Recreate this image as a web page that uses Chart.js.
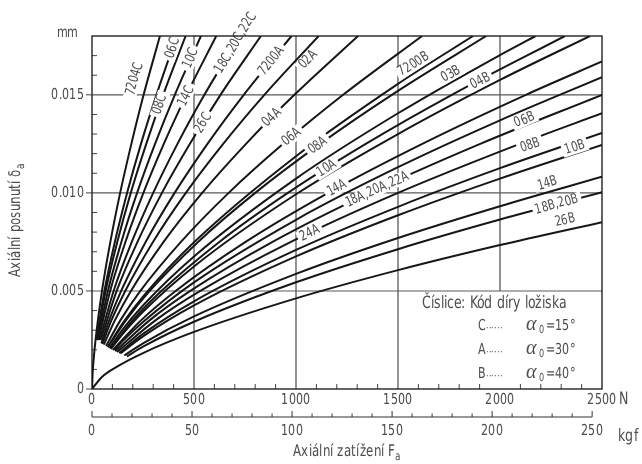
<!DOCTYPE html>
<html><head><meta charset="utf-8">
<script src="https://cdn.jsdelivr.net/npm/chart.js@4.4.1/dist/chart.umd.min.js"></script>
<style>
@font-face { font-family: 'CondSans'; src: local('Liberation Sans Narrow'), local('LiberationSansNarrow-Regular'), local('DejaVu Sans Condensed'), local('DejaVuSansCondensed'); }
html,body{margin:0;padding:0;background:#fff}canvas{display:block}
</style>
</head><body>
<canvas id="c" width="642" height="464" style="width:642px;height:464px"></canvas>
<script>
// ---- tick values / labels ----
const xTickValsN = [0, 500, 1000, 1500, 2000, 2500];
const xTickLabelsN = ['0', '500', '1000', '1500', '2000', '2500'];
const kgfTickVals = [0, 50, 100, 150, 200, 250];
const kgfTickLabels = ['0', '50', '100', '150', '200', '250'];
const yTickVals = [0, 0.005, 0.010, 0.015];
const yTickLabels = ['0', '0.005', '0.010', '0.015'];
const gridN = [500, 1000, 1500, 2000];
const gridMm = [0.005, 0.010, 0.015];

// ---- curves: [axial load N, axial displacement mm] ----
const s7204C = [[0,0],[3,0.00078],[8,0.0015],[17,0.00247],[49,0.005],[90,0.0075],[138,0.010],[193,0.0125],[253,0.015],[333,0.018]];
const s06C = [[21.5,0.0025],[61,0.005],[112,0.0075],[172,0.010],[240,0.0125],[316,0.015],[415,0.018]];
const s08C = [[24,0.0025],[67,0.005],[124,0.0075],[190,0.010],[266,0.0125],[349,0.015],[459,0.018]];
const s10C = [[28,0.0025],[78,0.005],[144,0.0075],[221,0.010],[309,0.0125],[406,0.015],[534,0.018]];
const s14C = [[31.5,0.0025],[89,0.005],[164,0.0075],[252,0.010],[352,0.0125],[463,0.015],[609,0.018]];
const s18C = [[37.5,0.0025],[106,0.005],[195,0.0075],[300,0.010],[419,0.0125],[551,0.015],[725,0.018]];
const s26C = [[43,0.0025],[121,0.005],[223,0.0075],[343,0.010],[480,0.0125],[630,0.015],[828,0.018]];
const s7200A = [[46,0.00233],[84,0.0035],[143,0.005],[263,0.0075],[405,0.010],[566,0.0125],[744,0.015],[978,0.018]];
const s02A = [[51,0.0023],[95,0.0035],[163,0.005],[299,0.0075],[460,0.010],[643,0.0125],[845,0.015],[1111,0.018]];
const s04A = [[58,0.00226],[112,0.0035],[191,0.005],[351,0.0075],[540,0.010],[755,0.0125],[992,0.015],[1304,0.018]];
const s06A = [[69,0.00219],[139,0.0035],[237,0.005],[436,0.0075],[670,0.010],[937,0.0125],[1231,0.015],[1618,0.018]];
const s08A = [[78,0.00213],[166,0.0035],[283,0.005],[520,0.0075],[800,0.010],[1118,0.0125],[1470,0.015],[1932,0.018]];
const s10A = [[91,0.00206],[199,0.0035],[340,0.005],[624,0.0075],[960,0.010],[1342,0.0125],[1764,0.015],[2318,0.018]];
const s14A = [[102,0.00199],[240,0.0035],[410,0.005],[753,0.0075],[1158,0.010],[1619,0.0125],[2127,0.015],[2500,0.0167]];
const s18A = [[114,0.00192],[282,0.0035],[482,0.005],[885,0.0075],[1361,0.010],[1903,0.0125],[2500,0.0150]];
const s24A = [[123,0.00189],[311,0.0035],[531,0.005],[975,0.0075],[1500,0.010],[2097,0.0125],[2500,0.01406]];
const s7200B = [[77,0.00214],[150,0.00335],[250,0.00471],[500,0.00748],[1000,0.01187],[1500,0.01556],[1868,0.018]];
const s03B = [[86,0.00208],[150,0.00303],[250,0.00426],[500,0.00676],[1000,0.01073],[1500,0.01406],[2000,0.01703],[2174,0.018]];
const s04B = [[93,0.00204],[150,0.0028],[250,0.00394],[500,0.00625],[1000,0.00993],[1500,0.0130],[2000,0.01576],[2441,0.018]];
const s06B = [[110,0.00198],[150,0.00244],[250,0.00342],[500,0.00544],[1000,0.00863],[1500,0.01131],[2000,0.0137],[2500,0.0159]];
const s08B = [[133,0.00184],[250,0.00281],[500,0.00447],[1000,0.00709],[1500,0.00929],[2000,0.01126],[2500,0.01306]];
const s10B = [[139,0.00181],[250,0.00268],[500,0.00426],[1000,0.00676],[1500,0.00886],[2000,0.01073],[2500,0.01245]];
const s14B = [[158,0.00171],[250,0.00233],[500,0.0037],[1000,0.00587],[1500,0.0077],[2000,0.00932],[2500,0.01082]];
const s18B = [[171,0.00166],[250,0.00216],[500,0.00343],[1000,0.00544],[1500,0.00713],[2000,0.00864],[2500,0.01003]];
const s26B = [[0,0],[50,0.000626],[125,0.001154],[250,0.001833],[500,0.00291],[1000,0.00462],[1500,0.00606],[2000,0.00734],[2500,0.00851]];

const curveNames = ['7204C','06C','08C','10C','14C','18C,20C,22C','26C',
  '7200A','02A','04A','06A','08A','10A','14A','18A,20A,22A','24A',
  '7200B','03B','04B','06B','08B','10B','14B','18B,20B','26B'];
const curveData = [s7204C,s06C,s08C,s10C,s14C,s18C,s26C,
  s7200A,s02A,s04A,s06A,s08A,s10A,s14A,s18A,s24A,
  s7200B,s03B,s04B,s06B,s08B,s10B,s14B,s18B,s26B];

// label placement along each curve (load where the label sits, side offset in px)
const labelSpots = {
  '7204C':[270,-13], '06C':[395,0], '08C':[333,0], '10C':[485,0], '14C':[461,0],
  '18C,20C,22C':[705,0], '26C':[544,0],
  '7200A':[880,0], '02A':[1030,8], '04A':[882,0], '06A':[980,0], '08A':[1108,0],
  '10A':[1152,0], '14A':[1201,0], '18A,20A,22A':[1397,0], '24A':[1069,0],
  '7200B':[1598,-8], '03B':[1779,-8], '04B':[1922,-8], '06B':[2103,9], '08B':[2167,-12],
  '10B':[2377,-6], '14B':[2245,-9], '18B,20B':[2279,0], '26B':[2330,-10]
};

const FONT = "CondSans, 'DejaVu Sans', sans-serif";
const TXT = '#4d4d4d';
const KGF = 9.80665;
const SX = 0.82;

function interp(arr, F){
  let i = 0;
  while (i < arr.length - 2 && arr[i+1][0] < F) i++;
  const a = arr[i], b = arr[i+1];
  const t = (F - a[0]) / (b[0] - a[0]);
  return a[1] + t * (b[1] - a[1]);
}
// condensed text helper (x,y = anchor; align left/center/right; vertical middle)
function txt(ctx, s, x, y, size, align, sx, font){
  ctx.save();
  ctx.font = font ? font : `${size}px ${FONT}`;
  ctx.textBaseline = 'middle';
  ctx.textAlign = 'left';
  const w = ctx.measureText(s).width * sx;
  let x0 = x;
  if (align === 'center') x0 = x - w / 2; else if (align === 'right') x0 = x - w;
  ctx.translate(x0, y); ctx.scale(sx, 1);
  ctx.fillText(s, 0, 0);
  ctx.restore();
  return w;
}

const deco = {
  id: 'deco',
  beforeDatasetsDraw(chart){
    const {ctx, chartArea: a, scales: {x, y}} = chart;
    ctx.save();
    ctx.strokeStyle = '#3a3a3a'; ctx.lineWidth = 1.1;
    gridN.forEach(v => {
      const px = x.getPixelForValue(v);
      const yEnd = v === 2000 ? y.getPixelForValue(0.005) : a.bottom;
      ctx.beginPath(); ctx.moveTo(px, a.top); ctx.lineTo(px, yEnd); ctx.stroke();
    });
    ctx.strokeStyle = '#5a5a5a';
    gridMm.forEach(v => {
      const py = y.getPixelForValue(v);
      ctx.beginPath(); ctx.moveTo(a.left, py); ctx.lineTo(a.right, py); ctx.stroke();
    });
    // minor ticks (inside)
    ctx.strokeStyle = '#444'; ctx.lineWidth = 1;
    for (let v = 100; v < 2500; v += 100) {
      if (v % 500 === 0) continue;
      const px = x.getPixelForValue(v);
      ctx.beginPath(); ctx.moveTo(px, a.bottom); ctx.lineTo(px, a.bottom - 5); ctx.stroke();
    }
    for (let k = 1; k <= 17; k++) {
      if (k % 5 === 0) continue;
      const py = y.getPixelForValue(k / 1000);
      ctx.beginPath(); ctx.moveTo(a.left, py); ctx.lineTo(a.left + 5, py); ctx.stroke();
    }
    ctx.restore();
  },
  afterDatasetsDraw(chart){
    const {ctx, chartArea: a, scales: {x, y, x2}} = chart;
    ctx.save();
    // curve labels
    curveNames.forEach((n, i) => {
      const spot = labelSpots[n]; if (!spot) return;
      const arr = curveData[i];
      const F = spot[0];
      const dF = Math.max(8, F * 0.04);
      const p0x = x.getPixelForValue(F - dF), p0y = y.getPixelForValue(interp(arr, F - dF));
      const p1x = x.getPixelForValue(F + dF), p1y = y.getPixelForValue(interp(arr, F + dF));
      const ang = Math.atan2(p1y - p0y, p1x - p0x);
      const cx = x.getPixelForValue(F), cy = y.getPixelForValue(interp(arr, F));
      ctx.save();
      ctx.translate(cx, cy); ctx.rotate(ang); ctx.translate(0, spot[1]);
      ctx.font = `14px ${FONT}`;
      const w = ctx.measureText(n).width * SX;
      ctx.fillStyle = '#fff';
      ctx.fillRect(-w/2 - 3, -6.5, w + 6, 13);
      ctx.fillStyle = TXT;
      txt(ctx, n, 0, 0, 14, 'center', SX);
      ctx.restore();
    });
    // frame
    ctx.strokeStyle = '#111'; ctx.lineWidth = 1.3;
    ctx.strokeRect(a.left, a.top, a.right - a.left, a.bottom - a.top);
    // major y ticks (outside)
    ctx.strokeStyle = '#444'; ctx.lineWidth = 1;
    yTickVals.forEach(v => {
      const py = y.getPixelForValue(v);
      ctx.beginPath(); ctx.moveTo(a.left - 6, py); ctx.lineTo(a.left, py); ctx.stroke();
    });
    // tick labels
    ctx.fillStyle = TXT;
    yTickVals.forEach((v, i) => txt(ctx, yTickLabels[i], a.left - 8, y.getPixelForValue(v), 15, 'right', SX));
    xTickValsN.forEach((v, i) => txt(ctx, xTickLabelsN[i], x.getPixelForValue(v), 400, 15, 'center', SX));
    kgfTickVals.forEach((v, i) => txt(ctx, kgfTickLabels[i], x2.getPixelForValue(v), 431, 15, 'center', SX));
    // secondary kgf axis
    const ay = 417;
    ctx.strokeStyle = '#333'; ctx.lineWidth = 1;
    ctx.beginPath(); ctx.moveTo(x2.getPixelForValue(0), ay); ctx.lineTo(x2.getPixelForValue(250), ay); ctx.stroke();
    for (let k = 0; k <= 250; k += 10) {
      const px = x2.getPixelForValue(k);
      const h = k % 50 === 0 ? 6 : 3.5;
      ctx.beginPath(); ctx.moveTo(px, ay); ctx.lineTo(px, ay - h); ctx.stroke();
    }
    // units
    txt(ctx, 'N', 619, 400, 17, 'left', SX);
    txt(ctx, 'kgf', 618, 437, 17, 'left', SX);
    txt(ctx, 'mm', 78, 33, 15, 'right', SX);
    // x title
    const xt = 'Axiální zatížení F';
    ctx.font = `16px ${FONT}`;
    const wx = ctx.measureText(xt).width * SX;
    const x0 = 347 - (wx + 6) / 2;
    txt(ctx, xt, x0, 452, 16, 'left', SX);
    txt(ctx, 'a', x0 + wx, 457, 12, 'left', SX);
    // y title
    ctx.save();
    ctx.translate(16, 220); ctx.rotate(-Math.PI / 2);
    const yt = 'Axiální posunutí δ';
    ctx.font = `16px ${FONT}`;
    const wy = ctx.measureText(yt).width * SX;
    txt(ctx, yt, -(wy + 6) / 2, 0, 16, 'left', SX);
    txt(ctx, 'a', -(wy + 6) / 2 + wy, 5, 12, 'left', SX);
    ctx.restore();
    // legend box
    txt(ctx, 'Číslice: Kód díry ložiska', 422, 304, 17, 'left', SX);
    const rows = [['C', '15°', 326], ['A', '30°', 350], ['B', '40°', 374]];
    rows.forEach(r => {
      txt(ctx, r[0], 478, r[2], 15, 'left', SX);
      txt(ctx, '······', 486, r[2] + 2, 10, 'left', 0.9);
      txt(ctx, 'α', 526, r[2] - 1, 19, 'left', 1, "italic 20px 'Liberation Serif', serif");
      txt(ctx, '0', 539, r[2] + 4, 11, 'left', SX);
      txt(ctx, '=' + r[1], 546, r[2], 15, 'left', SX);
    });
    ctx.restore();
  }
};

function draw(){
  const datasets = curveNames.map((n, i) => ({
    label: n,
    data: curveData[i].map(p => ({x: p[0], y: p[1]})),
    borderColor: '#161616', borderWidth: 2, pointRadius: 0,
    cubicInterpolationMode: 'monotone', fill: false
  }));
  new Chart(document.getElementById('c'), {
    type: 'line',
    data: {datasets},
    options: {
      responsive: false, animation: false, events: [],
      layout: {padding: {left: 0, right: 40, top: 36, bottom: 0}},
      plugins: {legend: {display: false}, tooltip: {enabled: false}},
      scales: {
        x: {type: 'linear', position: 'bottom', weight: 0, min: 0, max: 2500,
          afterFit(s){ s.height = 24; },
          afterBuildTicks(s){ s.ticks = xTickValsN.map(v => ({value: v})); },
          grid: {display: false, drawTicks: false}, border: {display: false},
          ticks: {display: false}},
        x2: {type: 'linear', axis: 'x', position: 'bottom', weight: 1, min: 0, max: 2500 / KGF,
          afterFit(s){ s.height = 51; },
          afterBuildTicks(s){ s.ticks = kgfTickVals.map(v => ({value: v})); },
          grid: {display: false, drawTicks: false}, border: {display: false},
          ticks: {display: false}},
        y: {type: 'linear', min: 0, max: 0.018,
          afterFit(s){ s.width = 92; },
          afterBuildTicks(s){ s.ticks = yTickVals.map(v => ({value: v})); },
          grid: {display: false, drawTicks: false}, border: {display: false},
          ticks: {display: false}}
      }
    },
    plugins: [deco]
  });
}
const fontReady = document.fonts && document.fonts.load ? document.fonts.load("15px CondSans").catch(() => null) : Promise.resolve();
Promise.race([fontReady, new Promise(r => setTimeout(r, 800))]).then(draw, draw);
</script>
</body></html>
